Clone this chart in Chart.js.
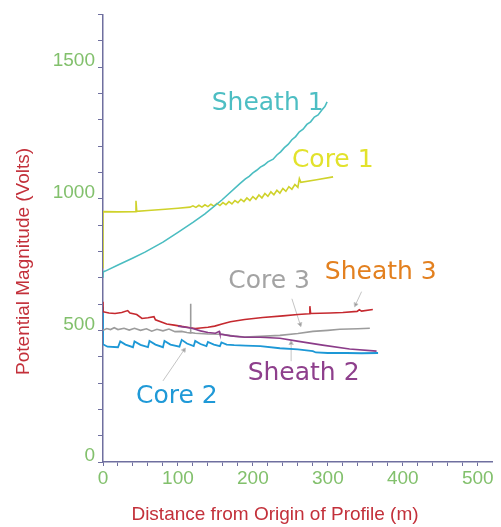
<!DOCTYPE html>
<html lang="en">
  <head>
    <meta charset="UTF-8" />
    <title>Potential Magnitude Profile</title>
    <script src="https://cdn.jsdelivr.net/npm/chart.js"></script>
    <style>
      html, body { margin: 0; padding: 0; background: #fff; }
      #wrap { width: 501px; height: 527px; }
    </style>
  </head>
  <body>
    <div id="wrap"><canvas id="profileChart"></canvas></div>

    <script>
      // --- data (distance m / volts) ---
      const sheath1X = [0, 0, 3, 20, 40, 56, 80, 100, 120, 136, 159, 183, 190, 195, 200, 205, 210, 215, 220, 227, 232, 237, 242, 247, 252, 257, 262, 267, 272, 277, 282, 287, 292, 296, 299];
      const sheath1Y = [700, 722, 725, 748, 775, 797, 835, 872, 910, 942, 996, 1058, 1075, 1085, 1098, 1108, 1120, 1128, 1140, 1150, 1166, 1178, 1194, 1206, 1224, 1236, 1254, 1264, 1282, 1292, 1310, 1318, 1337, 1350, 1368];

      const core1X = [0, 0, 20, 43, 44, 45, 60, 83, 100, 116, 120, 124, 128, 132, 136, 140, 144, 148, 152, 156, 160, 164, 168, 172, 176, 180, 184, 188, 192, 196, 200, 204, 208, 212, 216, 220, 224, 228, 232, 236, 240, 244, 248, 252, 256, 260, 262, 264, 285, 307];
      const core1Y = [735, 951, 950, 951, 992, 952, 955, 960, 964, 968, 973, 967, 975, 968, 977, 970, 979, 972, 982, 974, 985, 977, 989, 980, 993, 985, 998, 989, 1003, 993, 1008, 998, 1014, 1003, 1020, 1009, 1026, 1015, 1032, 1021, 1039, 1028, 1046, 1036, 1054, 1043, 1076, 1062, 1072, 1083];

      const sheath3X = [0, 0, 8, 16, 25, 33, 36, 45, 52, 60, 68, 70, 85, 95, 105, 112, 123, 130, 140, 149, 160, 170, 189, 213, 240, 260, 275, 276, 277, 303, 320, 339, 342, 345, 360];
      const sheath3Y = [609, 571, 566, 564, 568, 575, 566, 560, 545, 548, 552, 540, 524, 520, 515, 512, 507, 509, 512, 516, 525, 533, 541, 549, 555, 560, 563, 592, 564, 566, 568, 572, 578, 573, 579];

      const core3X = [0, 5, 10, 15, 20, 28, 35, 42, 50, 58, 65, 72, 80, 88, 96, 105, 112, 117, 117, 117, 123, 140, 159, 175, 189, 210, 236, 260, 280, 300, 316, 340, 356];
      const core3Y = [500, 507, 503, 510, 503, 508, 501, 508, 500, 506, 497, 504, 498, 505, 495, 496, 492, 490, 601, 492, 489, 486, 485, 478, 475, 477, 481, 488, 496, 500, 504, 506, 508];

      const sheath2X = [100, 117, 123, 130, 140, 150, 155, 156, 170, 189, 210, 236, 259, 293, 329, 365];
      const sheath2Y = [516, 509, 504, 498, 492, 489, 496, 486, 479, 474, 474, 470, 459, 444, 429, 421];

      const core2X = [0, 0, 6, 20, 23, 30, 40, 42, 50, 60, 62, 70, 80, 82, 90, 102, 105, 112, 121, 123, 130, 138, 140, 148, 156, 158, 165, 175, 190, 210, 236, 260, 280, 284, 300, 325, 345, 367];
      const core2Y = [590, 447, 438, 436, 458, 446, 436, 458, 445, 436, 460, 446, 436, 460, 446, 438, 464, 450, 440, 460, 448, 440, 456, 446, 440, 454, 446, 444, 442, 440, 432, 428, 421, 416, 414, 414, 413, 414];

      const xTicks = [0, 100, 200, 300, 400, 500];
      const yTicks = [0, 500, 1000, 1500];

      // series labels and their leader lines (data coordinates)
      const labelText = ['Sheath 1', 'Core 1', 'Core 3', 'Sheath 3', 'Sheath 2', 'Core 2'];
      const labelAtX = [145, 252, 167, 296, 193, 44];
      const labelAtY = [1361, 1147, 684, 718, 338, 248];
      const labelColor = ['#4dbec3', '#e2e22c', '#a3a3a3', '#e3801f', '#8e3f8c', '#1f99d7'];

      const leaderFrom = [[80, 308], [252, 620], [345, 647], [251, 383]];
      const leaderTo = [[108, 425], [263, 523], [337, 598], [251, 451]];
      const leaderRot = [34, 163, 205, 0];

      const axisColor = '#6f6f9f';
      const tickTextColor = '#82c06c';
      const titleColor = '#c3303a';

      const pts = (xs, ys) => xs.map((x, i) => ({ x: x, y: ys[i] }));

      function series(label, xs, ys, color, width) {
        return {
          label: label,
          data: pts(xs, ys),
          showLine: true,
          borderColor: color,
          backgroundColor: color,
          borderWidth: width,
          pointRadius: 0,
          tension: 0
        };
      }

      const datasets = [
        series('Sheath 1', sheath1X, sheath1Y, '#4bbdc1', 1.6),
        series('Core 1', core1X, core1Y, '#cfd22b', 1.6),
        series('Sheath 2', sheath2X, sheath2Y, '#8b3c89', 1.6),
        series('Core 3', core3X, core3Y, '#9c9c9c', 1.6),
        series('Sheath 3', sheath3X, sheath3Y, '#c5292f', 1.6),
        series('Core 2', core2X, core2Y, '#1d98d6', 1.8)
      ];

      leaderFrom.forEach((p, i) => {
        datasets.push({
          label: 'leader' + i,
          data: [{ x: p[0], y: p[1] }, { x: leaderTo[i][0], y: leaderTo[i][1] }],
          showLine: true,
          borderColor: '#c4c4c4',
          backgroundColor: '#9a9a9a',
          borderWidth: 1,
          pointStyle: 'triangle',
          pointRadius: [0, 2.5],
          rotation: leaderRot[i]
        });
      });

      // draws the series names and axis titles
      const textPlugin = {
        id: 'textPlugin',
        afterDraw(chart) {
          const c = chart.ctx;
          const xs = chart.scales.x, ys = chart.scales.y;
          const area = chart.chartArea;
          c.save();
          c.font = '25px "DejaVu Sans"';
          c.textAlign = 'left';
          c.textBaseline = 'middle';
          labelText.forEach((t, i) => {
            c.fillStyle = labelColor[i];
            c.fillText(t, xs.getPixelForValue(labelAtX[i]), ys.getPixelForValue(labelAtY[i]));
          });

          c.fillStyle = titleColor;
          c.font = '19px "Liberation Sans", Arial, sans-serif';
          c.textAlign = 'center';
          c.fillText('Distance from Origin of Profile (m)', area.left + 172, chart.height - 12);
          c.translate(24, area.top + 247);
          c.rotate(-Math.PI / 2);
          c.fillText('Potential Magnitude (Volts)', 0, 0);
          c.restore();
        }
      };

      const ctx = document.getElementById('profileChart').getContext('2d');
      Chart.defaults.font.family = '"Liberation Sans", Arial, sans-serif';

      new Chart(ctx, {
        type: 'scatter',
        data: { datasets: datasets },
        plugins: [textPlugin],
        options: {
          responsive: true,
          maintainAspectRatio: false,
          animation: false,
          layout: { padding: { top: 13, right: 9, left: 0, bottom: 0 } },
          plugins: { legend: { display: false }, tooltip: { enabled: false } },
          scales: {
            x: {
              type: 'linear',
              min: 0,
              max: 519,
              border: { color: axisColor, width: 1.5 },
              grid: { drawOnChartArea: false, tickLength: 4, tickColor: axisColor },
              ticks: {
                stepSize: 20,
                includeBounds: false,
                autoSkip: false,
                maxRotation: 0,
                color: tickTextColor,
                font: { size: 19 },
                padding: 1,
                callback: v => xTicks.includes(v) ? v : ''
              },
              afterFit: s => { s.height = 65; }
            },
            y: {
              min: 0,
              max: 1700,
              border: { color: axisColor, width: 1.5 },
              grid: { drawOnChartArea: false, tickLength: 5, tickColor: axisColor },
              ticks: {
                stepSize: 100,
                includeBounds: false,
                autoSkip: false,
                color: tickTextColor,
                font: { size: 19 },
                padding: 3,
                labelOffset: -6,
                callback: v => yTicks.includes(v) ? v : ''
              },
              afterFit: s => { s.width = 103; }
            }
          }
        }
      });
    </script>
  </body>
</html>
